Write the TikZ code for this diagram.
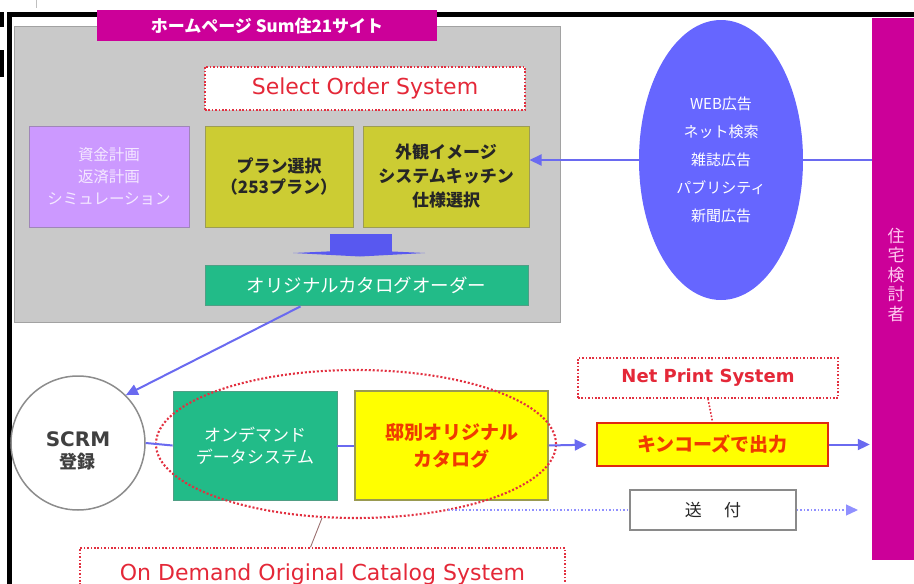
\documentclass[tikz,border=0pt]{standalone}
\usepackage{fontspec}
\setmainfont{Noto Sans CJK JP}
\newfontfamily\latinfont{DejaVu Sans}
\usetikzlibrary{shapes.geometric,arrows.meta,calc}
\definecolor{pgray}{HTML}{C9C9C9}
\definecolor{pgrayd}{HTML}{A2A2A2}
\definecolor{mag}{HTML}{CC0099}
\definecolor{lav}{HTML}{CC99FF}
\definecolor{lavd}{HTML}{9F86B8}
\definecolor{lavt}{HTML}{F4E8FF}
\definecolor{oly}{HTML}{CCCC33}
\definecolor{olyd}{HTML}{9C9C55}
\definecolor{grn}{HTML}{22BB88}
\definecolor{grnd}{HTML}{4F9F85}
\definecolor{eblue}{HTML}{6666FF}
\definecolor{ablue}{HTML}{6A6AF0}
\definecolor{bblue}{HTML}{5858F0}
\definecolor{ldblue}{HTML}{9090FF}
\definecolor{tred}{HTML}{E42838}
\definecolor{dred}{HTML}{E23040}
\definecolor{yel}{HTML}{FFFF00}
\definecolor{yeld}{HTML}{9A9A50}
\definecolor{otext}{HTML}{F03A00}
\definecolor{kred}{HTML}{E02A10}
\definecolor{sgray}{HTML}{8A8A8A}
\definecolor{cgray}{HTML}{8C8C8C}
\definecolor{pinkt}{HTML}{FFC8F0}
\definecolor{leadc}{HTML}{9A7070}
\tikzset{
  blk/.style={rectangle, inner sep=0pt, align=center},
  reddot/.style={draw=dred, line width=1.6pt, dash pattern=on 1.6pt off 1.8pt},
  lnk/.style={draw=ablue, line width=2pt},
  arr/.style={draw=ablue, line width=2pt, -{Triangle[length=12pt,width=11pt]}, color=ablue},
  bdots/.style={draw=ldblue, line width=1.3pt, dash pattern=on 1.5pt off 2pt},
  leader/.style={draw=leadc, line width=0.9pt},
}
\begin{document}
\begin{tikzpicture}[x=1pt,y=-1pt]
\useasboundingbox (0,0) rectangle (914,584);
% scan artefacts and frame
\fill[black] (0,12) rectangle (4,27);
\fill[black] (0,50) rectangle (4,77);
\draw[gray!50, line width=0.8pt] (36,0) -- (36,8);
\draw[line width=5pt] (9.5,590) -- (9.5,14) -- (920,14);
% home page panel
\node[blk, fill=pgray, draw=pgrayd, line width=1pt, minimum width=546, minimum height=296] (panel) at (287,174) {};
\node[blk, fill=mag, minimum width=340, minimum height=31, text=white, font=\fontsize{17}{19}\selectfont\bfseries] (hp) at (267,25.5) {ホームページ Sum住21サイト};
\node[blk, fill=white, reddot, minimum width=320, minimum height=43, text=tred, font=\latinfont\fontsize{22}{26}\selectfont] (sos) at (365,88.5) {Select Order System};
\node[blk, fill=lav, draw=lavd, line width=1pt, minimum width=160, minimum height=101, text=lavt, font=\fontsize{15.5}{22}\selectfont] (sim) at (109,176.5) {資金計画\\返済計画\\シミュレーション};
\node[blk, fill=oly, draw=olyd, line width=1pt, minimum width=148, minimum height=101, text=black!85, font=\fontsize{17}{21}\selectfont\bfseries] (plan) at (279,176.5) {プラン選択\\（253プラン）};
\node[blk, fill=oly, draw=olyd, line width=1pt, minimum width=166, minimum height=101, text=black!85, font=\fontsize{17}{24}\selectfont\bfseries] (ext) at (446,176.5) {外観イメージ\\システムキッチン\\仕様選択};
% block arrow
\fill[bblue] (330,234) rectangle (392,255);
\fill[bblue] (293,253) -- (360,250) -- (425,253) -- (360,256.5) -- cycle;
\node[blk, fill=grn, draw=grnd, line width=0.8pt, minimum width=323, minimum height=40, text=white, font=\fontsize{18.5}{21}\selectfont] (order) at (366.5,285) {オリジナルカタログオーダー};
% media ellipse and right bar
\node[ellipse, fill=eblue, minimum width=164, minimum height=280, inner sep=0pt, text=white, align=center, font=\fontsize{15}{28}\selectfont] (ad) at (721,160) {WEB広告\\ネット検索\\雑誌広告\\パブリシティ\\新聞広告};
\node[blk, fill=mag, minimum width=42, minimum height=542] (bar) at (893,289) {};
\node[text=pinkt, align=center, inner sep=0pt, font=\fontsize{17}{19.5}\selectfont] (bartxt) at (896,275) {住\\宅\\検\\討\\者};
% lower row
\node[circle, draw=cgray, line width=1.5pt, fill=white, minimum size=134, inner sep=0pt] (scrm) at (78,443) {};
\node[align=center, inner sep=0pt, text=black!75, yshift=-8pt] (scrmtxt) at (scrm.center) {{\latinfont\fontsize{20}{22}\selectfont\bfseries SCRM}\\[5pt]{\fontsize{18}{20}\selectfont\bfseries 登録}};
\node[blk, fill=grn, draw=grnd, line width=0.8pt, minimum width=164, minimum height=109, text=white, font=\fontsize{17}{22}\selectfont] (ods) at (255,445.5) {オンデマンド\\データシステム};
\node[blk, fill=yel, draw=yeld, line width=1.2pt, minimum width=193, minimum height=109, text=otext, font=\fontsize{19}{27}\selectfont\bfseries] (cat) at (451.5,445.5) {邸別オリジナル\\カタログ};
\node[ellipse, reddot, line width=2.1pt, dash pattern=on 2pt off 2pt, minimum width=400, minimum height=148, inner sep=0pt] (ring) at (356,444) {};
\node[blk, fill=white, reddot, minimum width=260, minimum height=40, text=tred, font=\latinfont\bfseries\fontsize{18}{20}\selectfont] (np) at (708,378) {Net Print System};
\node[blk, fill=yel, draw=kred, line width=2.5pt, minimum width=231, minimum height=43, text=otext, font=\fontsize{19}{22}\selectfont\bfseries] (kin) at (712.5,444.5) {キンコーズで出力};
\node[blk, fill=white, draw=sgray, line width=1.5pt, minimum width=166, minimum height=40, text=black!85, font=\fontsize{17}{20}\selectfont] (sofu) at (713,510) {送\hspace{1.3em}付};
\node[blk, fill=white, reddot, minimum width=485, minimum height=52, text=tred, font=\latinfont\fontsize{22}{26}\selectfont] (odocs) at (322.5,574) {On Demand Original Catalog System};
% connectors
\draw[lnk] (ad.east) -- (bar.west |- ad.east);
\draw[arr] (ad.west) -- (ext.east |- ad.west);
\draw[arr] ($(order.south)+(-66,1)$) -- (scrm.north east);
\draw[lnk] (scrm.east) -- (ods.west);
\draw[lnk] (ods.east) -- (cat.west);
\draw[arr, shorten >=9pt] (cat.east) -- (kin.west);
\draw[arr, shorten >=2pt] (kin.east) -- (bar.west |- kin.east);
\draw[reddot] (np.south) -- (kin.north);
\coordinate (sendstart) at (448,510);
\coordinate (sendend) at (858,510);
\draw[bdots] (sendstart) -- (sofu.west);
\draw[bdots, -{Triangle[length=12pt,width=11pt]}] (sofu.east) -- (sendend);
\draw[leader] ($(ring.south)+(-34,-1)$) -- ($(odocs.north)+(-12,0)$);
\end{tikzpicture}
\end{document}
